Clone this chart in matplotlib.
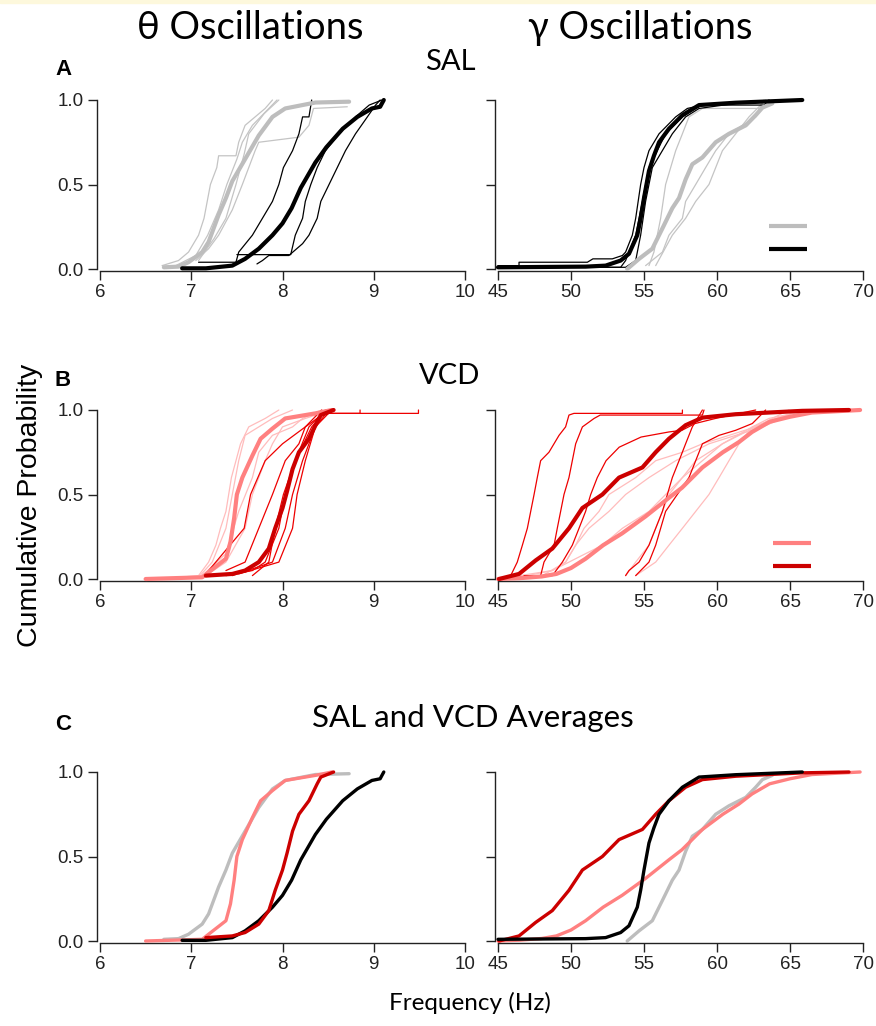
import matplotlib
matplotlib.use("Agg")
import matplotlib.pyplot as plt
from matplotlib.patches import Rectangle

# ---------------- data ----------------
THETA_TICKS = [6, 7, 8, 9, 10]
GAMMA_TICKS = [45, 50, 55, 60, 65, 70]
PROB_TICKS = [0.0, 0.5, 1.0]
PROB_LABELS = ["0.0", "0.5", "1.0"]

# Averages (thick) -- theta
sal_theta_light_avg_x = [6.70, 6.86, 6.97, 7.12, 7.19, 7.30, 7.38, 7.45, 7.59, 7.74, 7.89, 8.03, 8.36, 8.73]
sal_theta_light_avg_p = [0.01, 0.014, 0.04, 0.10, 0.16, 0.32, 0.42, 0.52, 0.65, 0.79, 0.90, 0.95, 0.985, 0.99]
sal_theta_dark_avg_x = [6.90, 7.16, 7.45, 7.59, 7.74, 7.89, 8.00, 8.10, 8.20, 8.36, 8.48, 8.66, 8.82, 8.98, 9.07, 9.11]
sal_theta_dark_avg_p = [0.004, 0.004, 0.02, 0.06, 0.12, 0.20, 0.27, 0.36, 0.48, 0.63, 0.72, 0.83, 0.90, 0.95, 0.96, 1.0]
vcd_theta_light_avg_x = [6.50, 7.12, 7.19, 7.38, 7.43, 7.47, 7.50, 7.56, 7.67, 7.76, 7.89, 8.03, 8.36, 8.54]
vcd_theta_light_avg_p = [0.0, 0.01, 0.04, 0.12, 0.22, 0.36, 0.50, 0.60, 0.73, 0.83, 0.89, 0.95, 0.98, 1.0]
vcd_theta_dark_avg_x = [7.16, 7.45, 7.59, 7.74, 7.85, 7.92, 8.00, 8.05, 8.11, 8.18, 8.29, 8.38, 8.42, 8.56]
vcd_theta_dark_avg_p = [0.02, 0.03, 0.05, 0.10, 0.18, 0.30, 0.42, 0.52, 0.65, 0.75, 0.83, 0.93, 0.97, 1.0]

# Averages (thick) -- gamma
sal_gamma_light_avg_x = [53.85, 54.66, 55.57, 56.26, 56.94, 57.40, 57.85, 58.31, 59.00, 59.91, 60.82, 61.97, 62.65, 63.11, 63.79]
sal_gamma_light_avg_p = [0.0, 0.06, 0.12, 0.24, 0.36, 0.42, 0.53, 0.62, 0.66, 0.75, 0.80, 0.85, 0.91, 0.955, 0.98]
sal_gamma_dark_avg_x = [45.0, 51.0, 52.37, 53.40, 53.97, 54.54, 54.77, 55.00, 55.34, 55.68, 56.03, 56.71, 57.63, 58.77, 61.28, 65.84]
sal_gamma_dark_avg_p = [0.01, 0.014, 0.02, 0.05, 0.09, 0.20, 0.30, 0.42, 0.58, 0.67, 0.75, 0.83, 0.91, 0.97, 0.984, 1.0]
vcd_gamma_light_avg_x = [45.0, 46.5, 48.0, 49.0, 50.0, 51.0, 52.2, 53.5, 55.1, 56.7, 57.6, 59.0, 60.4, 61.5, 62.4, 63.6, 65.0, 66.5, 69.8]
vcd_gamma_light_avg_p = [0.0, 0.005, 0.015, 0.03, 0.065, 0.12, 0.20, 0.27, 0.37, 0.48, 0.54, 0.66, 0.75, 0.81, 0.87, 0.93, 0.96, 0.985, 1.0]
vcd_gamma_dark_avg_x = [45.07, 46.44, 47.58, 48.72, 49.86, 50.78, 52.15, 53.29, 54.89, 55.80, 56.71, 57.85, 59.00, 61.28, 65.84, 69.04]
vcd_gamma_dark_avg_p = [0.0, 0.03, 0.11, 0.18, 0.30, 0.42, 0.50, 0.60, 0.66, 0.75, 0.83, 0.91, 0.955, 0.975, 0.995, 1.0]

# Individual recordings (thin) -- SAL theta
sal_theta_light_cells_x = [
    [6.68, 6.86, 6.97, 7.08, 7.14, 7.21, 7.28, 7.30, 7.49, 7.52, 7.59, 7.81, 7.89],
    [6.83, 7.05, 7.18, 7.30, 7.39, 7.50, 7.56, 7.67, 7.94],
    [7.05, 7.19, 7.30, 7.45, 7.56, 7.70, 7.74, 8.18, 8.29, 8.34, 8.71],
    [7.08, 7.25, 7.38, 7.49, 7.58, 7.63, 7.80, 7.96],
]
sal_theta_light_cells_p = [
    [0.02, 0.05, 0.10, 0.20, 0.30, 0.50, 0.60, 0.67, 0.67, 0.75, 0.85, 0.95, 1.0],
    [0.02, 0.08, 0.20, 0.35, 0.50, 0.65, 0.75, 0.85, 1.0],
    [0.05, 0.12, 0.20, 0.35, 0.50, 0.70, 0.75, 0.78, 0.85, 0.95, 0.96],
    [0.05, 0.18, 0.30, 0.50, 0.68, 0.80, 0.92, 1.0],
]
sal_theta_dark_cells_x = [
    [7.08, 7.49, 7.52, 7.67, 7.78, 7.89, 7.96, 8.01, 8.11, 8.18, 8.22, 8.29, 8.32],
    [7.50, 8.09, 8.14, 8.22, 8.25, 8.31, 8.38, 8.47, 8.62, 8.80, 8.95, 9.09],
    [7.72, 7.78, 7.85, 8.07, 8.22, 8.29, 8.38, 8.42, 8.51, 8.60, 8.69, 8.80, 8.93, 9.02, 9.07],
]
sal_theta_dark_cells_p = [
    [0.04, 0.04, 0.10, 0.20, 0.30, 0.40, 0.50, 0.60, 0.70, 0.80, 0.90, 0.90, 1.0],
    [0.085, 0.085, 0.20, 0.30, 0.40, 0.50, 0.60, 0.70, 0.80, 0.90, 0.97, 1.0],
    [0.03, 0.05, 0.08, 0.08, 0.15, 0.20, 0.30, 0.40, 0.50, 0.60, 0.70, 0.80, 0.90, 0.97, 1.0],
]

# Individual recordings (thin) -- SAL gamma
sal_gamma_light_cells_x = [
    [55.34, 55.68, 56.14, 56.48, 57.17, 57.63, 58.08, 59.00, 63.11, 63.56],
    [55.11, 56.26, 56.71, 57.63, 57.85, 58.54, 59.22, 59.91, 60.82, 62.65, 63.22],
    [55.80, 56.94, 57.85, 58.54, 59.45, 59.91, 60.37, 61.28, 62.19, 63.33],
]
sal_gamma_light_cells_p = [
    [0.02, 0.10, 0.30, 0.50, 0.70, 0.80, 0.90, 0.95, 0.95, 1.0],
    [0.02, 0.10, 0.20, 0.30, 0.40, 0.50, 0.60, 0.70, 0.80, 0.90, 1.0],
    [0.02, 0.20, 0.30, 0.40, 0.50, 0.60, 0.70, 0.80, 0.90, 1.0],
]
sal_gamma_dark_cells_x = [
    [45.0, 46.44, 46.44, 51.12, 51.5, 52.83, 53.52, 53.74, 54.20, 54.43, 54.77, 55.00, 55.34, 56.03, 57.17, 57.97, 59.00, 63.22, 63.56],
    [45.0, 53.40, 53.74, 54.43, 54.89, 55.34, 56.48, 57.63, 58.54, 59.00, 65.84],
    [45.0, 53.74, 54.43, 54.77, 55.11, 55.57, 56.94, 57.85, 58.77, 61.28, 65.84],
]
sal_gamma_dark_cells_p = [
    [0.02, 0.02, 0.04, 0.04, 0.06, 0.06, 0.08, 0.10, 0.20, 0.30, 0.50, 0.60, 0.70, 0.80, 0.90, 0.95, 0.97, 0.97, 1.0],
    [0.01, 0.01, 0.05, 0.20, 0.40, 0.60, 0.80, 0.90, 0.95, 0.97, 1.0],
    [0.01, 0.01, 0.05, 0.20, 0.40, 0.60, 0.80, 0.90, 0.95, 0.98, 1.0],
]

# Individual recordings (thin) -- VCD theta
vcd_theta_light_cells_x = [
    [6.86, 7.08, 7.19, 7.27, 7.32, 7.38, 7.41, 7.44, 7.49, 7.54, 7.63, 7.81, 7.96],
    [7.08, 7.23, 7.38, 7.45, 7.52, 7.59, 7.89, 8.11],
    [7.16, 7.38, 7.59, 7.67, 7.74, 7.81, 7.89, 8.00, 8.25, 8.54],
    [7.12, 7.38, 7.52, 7.67, 7.74, 7.89, 8.11, 8.22, 8.43],
]
vcd_theta_light_cells_p = [
    [0.01, 0.02, 0.10, 0.20, 0.30, 0.40, 0.50, 0.60, 0.70, 0.80, 0.90, 0.95, 1.0],
    [0.01, 0.10, 0.30, 0.50, 0.70, 0.85, 0.95, 1.0],
    [0.02, 0.10, 0.30, 0.50, 0.60, 0.70, 0.80, 0.90, 0.95, 1.0],
    [0.02, 0.15, 0.40, 0.60, 0.75, 0.85, 0.90, 0.95, 1.0],
]
vcd_theta_dark_cells_x = [
    [7.16, 7.58, 7.65, 7.81, 8.00, 8.25, 8.43, 8.50, 9.49, 9.49],
    [7.38, 7.67, 7.81, 7.96, 8.03, 8.14, 8.32, 8.43, 8.50, 8.85, 8.85],
    [7.45, 7.89, 8.03, 8.11, 8.22, 8.36, 8.54],
    [7.52, 7.96, 8.11, 8.16, 8.25, 8.36, 8.51],
    [7.67, 7.85, 7.92, 8.01, 8.14, 8.29, 8.47],
    [7.38, 7.59, 7.74, 7.89, 7.96, 8.03, 8.18, 8.25, 8.43],
]
vcd_theta_dark_cells_p = [
    [0.03, 0.30, 0.50, 0.70, 0.80, 0.90, 0.97, 0.98, 0.98, 1.0],
    [0.02, 0.05, 0.10, 0.30, 0.50, 0.70, 0.90, 0.97, 0.98, 0.98, 1.0],
    [0.02, 0.10, 0.30, 0.50, 0.70, 0.90, 1.0],
    [0.03, 0.10, 0.30, 0.50, 0.70, 0.90, 1.0],
    [0.02, 0.10, 0.30, 0.50, 0.70, 0.90, 1.0],
    [0.05, 0.10, 0.30, 0.50, 0.60, 0.70, 0.80, 0.90, 1.0],
]

# Individual recordings (thin) -- VCD gamma
vcd_gamma_light_cells_x = [
    [45.75, 48.72, 49.63, 50.32, 50.89, 51.92, 52.60, 54.43, 55.80, 57.63, 59.00, 60.82, 62.65, 64.00, 66.07],
    [48.04, 49.63, 50.32, 51.23, 52.60, 53.74, 55.34, 57.17, 59.45, 63.11, 64.47, 66.30],
    [53.74, 54.43, 55.34, 55.80, 56.26, 56.71, 57.63, 59.00, 60.37, 62.42, 65.84],
    [54.43, 55.80, 56.71, 57.63, 58.54, 59.45, 60.14, 60.82, 61.51, 62.42, 63.56, 66.30],
    [46.44, 48.72, 49.86, 51.00, 52.15, 53.52, 55.34, 56.48, 57.63, 58.54, 60.37, 62.65, 64.93],
]
vcd_gamma_light_cells_p = [
    [0.01, 0.05, 0.10, 0.20, 0.30, 0.40, 0.50, 0.60, 0.70, 0.75, 0.80, 0.85, 0.90, 0.95, 1.0],
    [0.02, 0.10, 0.20, 0.30, 0.40, 0.50, 0.60, 0.70, 0.80, 0.90, 0.95, 1.0],
    [0.02, 0.10, 0.20, 0.30, 0.40, 0.50, 0.60, 0.70, 0.80, 0.90, 1.0],
    [0.02, 0.10, 0.20, 0.30, 0.40, 0.50, 0.60, 0.70, 0.80, 0.90, 0.95, 1.0],
    [0.01, 0.05, 0.10, 0.15, 0.20, 0.30, 0.40, 0.50, 0.60, 0.70, 0.80, 0.90, 1.0],
]
vcd_gamma_dark_cells_x = [
    [45.87, 46.32, 46.67, 47.01, 47.24, 47.47, 47.69, 47.92, 48.49, 49.18, 49.63, 49.86, 50.20, 57.63, 57.63],
    [47.92, 48.15, 48.84, 49.06, 49.29, 49.52, 49.86, 50.09, 50.32, 50.78, 51.58, 52.00, 59.00, 59.11],
    [46.78, 48.72, 49.41, 50.09, 50.55, 51.00, 51.35, 51.80, 52.40, 53.30, 54.80, 56.70, 57.60, 58.50, 59.90, 62.65],
    [53.74, 53.97, 54.66, 55.34, 55.80, 56.26, 56.60, 56.94, 57.40, 57.85, 58.31, 59.00],
    [54.43, 55.34, 55.80, 56.48, 58.08, 58.54, 59.00, 60.14, 61.28, 62.42, 63.00, 63.33],
]
vcd_gamma_dark_cells_p = [
    [0.02, 0.10, 0.20, 0.30, 0.40, 0.50, 0.60, 0.70, 0.75, 0.85, 0.90, 0.97, 0.98, 0.98, 1.0],
    [0.02, 0.10, 0.20, 0.30, 0.40, 0.50, 0.60, 0.70, 0.80, 0.90, 0.95, 0.97, 0.97, 1.0],
    [0.02, 0.02, 0.10, 0.20, 0.30, 0.40, 0.50, 0.60, 0.70, 0.78, 0.84, 0.87, 0.88, 0.92, 0.95, 1.0],
    [0.02, 0.05, 0.10, 0.20, 0.30, 0.40, 0.50, 0.60, 0.70, 0.80, 0.90, 1.0],
    [0.02, 0.10, 0.20, 0.40, 0.60, 0.70, 0.80, 0.85, 0.88, 0.92, 0.97, 1.0],
]

# ---------------- style ----------------
C_GRAY_THIN = "#c4c4c4"
C_GRAY = "#bdbdbd"
C_BLACK = "#000000"
C_PINK_THIN = "#ffbcbc"
C_PINK = "#ff8080"
C_RED_THIN = "#ee0000"
C_RED = "#cc0000"

W, H = 876, 1026
fig = plt.figure(figsize=(W / 100, H / 100), dpi=100)
fig.patches.append(Rectangle((0, 1 - 3 / H), 1, 3 / H, transform=fig.transFigure,
                             color="#fdf8dc", zorder=0))

TICK_FONT = ["Liberation Sans", "DejaVu Sans"]
CAL_FONT = ["Lato", "DejaVu Sans"]


def make_ax(left_px, top_px, xlim, xticks, ylabels):
    ax = fig.add_axes([left_px / W, 1 - (top_px + 169) / H, 365 / W, 169 / H])
    ax.set_xlim(*xlim)
    ax.set_ylim(0, 1)
    for s in ("top", "right"):
        ax.spines[s].set_visible(False)
    ax.spines["left"].set_position(("outward", 2.5))
    ax.spines["bottom"].set_position(("outward", 1.5))
    for s in ("left", "bottom"):
        ax.spines[s].set_linewidth(1.0)
        ax.spines[s].set_color("#222222")
    ax.set_xticks(xticks)
    ax.set_xticklabels([str(t) for t in xticks], fontfamily=TICK_FONT, fontsize=13.5)
    ax.set_yticks(PROB_TICKS)
    if ylabels:
        ax.set_yticklabels(PROB_LABELS, fontfamily=TICK_FONT, fontsize=13.5)
    else:
        ax.set_yticklabels([])
    ax.tick_params(direction="out", length=6.5, width=1.0, color="#222222",
                   labelcolor="#222222", pad=3)
    ax.patch.set_alpha(0)
    return ax


def draw(ax, x, p, color, lw, z):
    ax.plot(x, p, color=color, lw=lw, clip_on=False, zorder=z,
            solid_joinstyle="round", solid_capstyle="round")


THIN = 0.9
THICK = 3.0
THICK_C = 2.4

# ---- Row A ----
axA1 = make_ax(100, 100, (6, 10), THETA_TICKS, True)
for x, p in zip(sal_theta_light_cells_x, sal_theta_light_cells_p):
    draw(axA1, x, p, C_GRAY_THIN, THIN, 2)
for x, p in zip(sal_theta_dark_cells_x, sal_theta_dark_cells_p):
    draw(axA1, x, p, C_BLACK, THIN, 3)
draw(axA1, sal_theta_light_avg_x, sal_theta_light_avg_p, C_GRAY, THICK, 4)
draw(axA1, sal_theta_dark_avg_x, sal_theta_dark_avg_p, C_BLACK, THICK, 5)

axA2 = make_ax(498, 100, (45, 70), GAMMA_TICKS, False)
for x, p in zip(sal_gamma_light_cells_x, sal_gamma_light_cells_p):
    draw(axA2, x, p, C_GRAY_THIN, THIN, 2)
for x, p in zip(sal_gamma_dark_cells_x, sal_gamma_dark_cells_p):
    draw(axA2, x, p, C_BLACK, THIN, 3)
draw(axA2, sal_gamma_light_avg_x, sal_gamma_light_avg_p, C_GRAY, THICK, 4)
draw(axA2, sal_gamma_dark_avg_x, sal_gamma_dark_avg_p, C_BLACK, THICK, 5)
axA2.plot([0.742, 0.847], [0.254, 0.254], transform=axA2.transAxes, color=C_GRAY, lw=3, solid_capstyle="butt")
axA2.plot([0.742, 0.847], [0.118, 0.118], transform=axA2.transAxes, color=C_BLACK, lw=3, solid_capstyle="butt")

# ---- Row B ----
axB1 = make_ax(100, 410, (6, 10), THETA_TICKS, True)
for x, p in zip(vcd_theta_light_cells_x, vcd_theta_light_cells_p):
    draw(axB1, x, p, C_PINK_THIN, THIN, 2)
for x, p in zip(vcd_theta_dark_cells_x, vcd_theta_dark_cells_p):
    draw(axB1, x, p, C_RED_THIN, THIN, 3)
draw(axB1, vcd_theta_light_avg_x, vcd_theta_light_avg_p, C_PINK, THICK, 4)
draw(axB1, vcd_theta_dark_avg_x, vcd_theta_dark_avg_p, C_RED, THICK, 5)

axB2 = make_ax(498, 410, (45, 70), GAMMA_TICKS, False)
for x, p in zip(vcd_gamma_light_cells_x, vcd_gamma_light_cells_p):
    draw(axB2, x, p, C_PINK_THIN, THIN, 2)
for x, p in zip(vcd_gamma_dark_cells_x, vcd_gamma_dark_cells_p):
    draw(axB2, x, p, C_RED_THIN, THIN, 3)
draw(axB2, vcd_gamma_light_avg_x, vcd_gamma_light_avg_p, C_PINK, THICK, 4)
draw(axB2, vcd_gamma_dark_avg_x, vcd_gamma_dark_avg_p, C_RED, THICK, 5)
axB2.plot([0.753, 0.858], [0.213, 0.213], transform=axB2.transAxes, color=C_PINK, lw=3, solid_capstyle="butt")
axB2.plot([0.753, 0.858], [0.077, 0.077], transform=axB2.transAxes, color=C_RED, lw=3, solid_capstyle="butt")

# ---- Row C ----
axC1 = make_ax(100, 772, (6, 10), THETA_TICKS, True)
draw(axC1, sal_theta_light_avg_x, sal_theta_light_avg_p, C_GRAY, THICK_C, 2)
draw(axC1, vcd_theta_light_avg_x, vcd_theta_light_avg_p, C_PINK, THICK_C, 3)
draw(axC1, sal_theta_dark_avg_x, sal_theta_dark_avg_p, C_BLACK, THICK_C, 4)
draw(axC1, vcd_theta_dark_avg_x, vcd_theta_dark_avg_p, C_RED, THICK_C, 5)

axC2 = make_ax(498, 772, (45, 70), GAMMA_TICKS, False)
draw(axC2, sal_gamma_light_avg_x, sal_gamma_light_avg_p, C_GRAY, THICK_C, 2)
draw(axC2, vcd_gamma_light_avg_x, vcd_gamma_light_avg_p, C_PINK, THICK_C, 3)
draw(axC2, vcd_gamma_dark_avg_x, vcd_gamma_dark_avg_p, C_RED, THICK_C, 4)
draw(axC2, sal_gamma_dark_avg_x, sal_gamma_dark_avg_p, C_BLACK, THICK_C, 5)

# ---------------- text ----------------
def ftext(xp, yp, s, **kw):
    fig.text(xp / W, 1 - yp / H, s, ha="center", va="center", **kw)

ftext(250, 28, "θ Oscillations", fontsize=27.5, family=CAL_FONT)
ftext(640, 28, "γ Oscillations", fontsize=27.5, family=CAL_FONT)
ftext(450, 62, "SAL", fontsize=21, family=CAL_FONT)
ftext(450, 376, "VCD", fontsize=21, family=CAL_FONT)
ftext(473, 718, "SAL and VCD Averages", fontsize=22.5, family=CAL_FONT)
ftext(63, 70, "A", fontsize=16, fontweight="bold", family=TICK_FONT)
ftext(63, 380, "B", fontsize=16, fontweight="bold", family=TICK_FONT)
ftext(63, 724, "C", fontsize=16, fontweight="bold", family=TICK_FONT)
ftext(30, 505, "Cumulative Probability", fontsize=20.5, rotation=90, family=TICK_FONT)
ftext(470, 1003, "Frequency (Hz)", fontsize=17.5, family=CAL_FONT)

fig.savefig("out.png", dpi=100, facecolor="white")
